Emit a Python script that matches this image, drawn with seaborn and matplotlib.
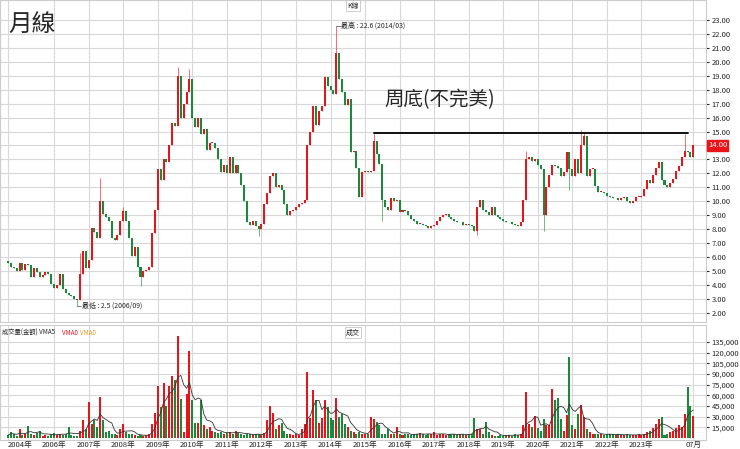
import numpy as np
import pandas as pd
import matplotlib
matplotlib.use("Agg")
import matplotlib.pyplot as plt
import seaborn as sns

# monthly closes, 2004-09 .. 2024-07
close = [5.6, 5.3, 5.2, 5.0,
         5.6, 5.1, 5.5, 5.4, 4.6, 5.2, 4.9, 4.6, 4.7, 4.9, 4.8, 4.1,
         3.8, 4.0, 4.8, 3.7, 3.4, 3.3, 3.2, 3.0, 2.9, 4.8, 6.4, 5.2,
         5.8, 8.1, 7.8, 7.4, 10.0, 9.1, 8.9, 8.6, 7.4, 7.2, 7.6, 8.6,
         9.3, 8.6, 7.4, 6.1, 6.7, 5.3, 4.6, 5.0, 5.1, 5.3, 7.7, 9.4,
         12.3, 11.5, 13.0, 12.8, 14.0, 15.6, 15.4, 19.0, 16.0, 17.0, 17.8, 18.8,
         16.0, 15.3, 16.0, 14.8, 15.2, 13.7, 14.2, 14.2, 13.8, 13.0, 12.1, 12.6,
         12.0, 13.2, 12.0, 12.6, 12.0, 11.2, 10.0, 8.5, 8.3, 8.6, 8.2, 8.0,
         8.4, 9.8, 10.6, 11.8, 12.0, 11.0, 11.2, 10.8, 9.8, 9.0, 9.3, 9.4,
         9.6, 9.8, 9.9, 10.1, 14.0, 15.0, 16.8, 15.5, 16.5, 16.8, 18.9, 18.3,
         18.0, 17.7, 20.6, 18.8, 17.8, 16.9, 17.3, 13.5, 13.6, 12.4, 10.3, 12.1,
         12.2, 12.1, 12.2, 14.3, 13.4, 12.7, 10.1, 9.6, 9.4, 10.2, 10.0, 10.1,
         9.2, 9.4, 9.3, 9.0, 8.7, 8.6, 8.4, 8.4, 8.3, 8.2, 8.1, 8.2,
         8.3, 8.6, 8.9, 9.0, 9.1, 8.9, 8.7, 8.6, 8.5,
         8.5, 8.3, 8.4, 8.3, 8.2, 7.9, 9.6, 10.1, 9.4, 9.2, 9.0,
         9.6, 9.0, 8.9, 8.7, 8.6, 8.5, 8.5, 8.4, 8.3, 8.2, 8.5, 10.1,
         13.0, 13.2, 12.9, 13.0, 12.6, 12.3, 9.0, 11.0, 11.9, 12.6, 12.5, 12.4,
         11.8, 12.1, 13.5, 12.3, 11.8, 13.0, 12.0, 14.0, 14.7, 11.8, 12.3, 12.3,
         11.1, 10.7, 10.7, 10.6, 10.4, 10.3, 10.2, 10.2, 10.1, 10.2, 10.3, 10.0,
         9.9, 10.0, 10.3, 10.3, 10.4, 10.9, 11.5, 11.3, 11.9, 12.4, 12.8, 11.5,
         11.2, 11.0, 11.3, 11.6, 12.2, 12.5, 13.2, 13.6, 13.5, 13.2, 14.0]
open_first = 5.7
# notable wick extremes (month index: value)
high_marks = {25: 6.3, 32: 11.7, 40: 9.6, 59: 19.6, 63: 19.5, 114: 22.6, 127: 14.9, 180: 13.6, 199: 15.1, 200: 14.9, 235: 14.8}
low_marks = {24: 2.5, 46: 3.9, 87: 7.5, 130: 8.6, 163: 7.6, 186: 7.9, 195: 10.8}

# monthly volume, thousands
volume = [4, 8, 5, 3, 12, 4, 6, 17, 5, 4, 7, 10, 3, 4, 3, 5, 7, 4, 6, 4, 5, 15, 4, 3, 3,
          10, 25, 12, 51, 20, 25, 15, 57, 25, 8, 10, 6, 5, 4, 12, 19, 8, 6, 5, 4, 3, 4, 3, 4, 5,
          20, 35, 73, 43, 78, 45, 73, 87, 82, 143, 55, 8, 62, 123, 54, 21, 21, 54, 18, 12, 15, 10, 8, 7, 9, 6, 7,
          8, 6, 10, 7, 5, 4, 6, 5, 4, 6, 5, 4, 7, 25, 45, 35, 12, 18, 21, 10, 6, 5, 4, 5, 4, 12, 20,
          93, 28, 68, 54, 21, 28, 53, 43, 28, 25, 56, 30, 33, 20, 15, 10, 8, 6, 8, 6, 5, 6,
          29, 27, 23, 18, 6, 5, 13, 5, 5, 16, 5, 4, 5, 6, 4, 5, 6, 7, 5, 4, 6, 5, 8, 4, 5, 6,
          4, 5, 6, 5, 4, 5, 6, 4, 5, 6, 28, 13, 13, 5, 23, 8, 4, 3, 3, 4, 3, 4, 4, 3, 5, 4, 5, 18,
          65, 20, 15, 31, 14, 10, 26, 18, 18, 69, 53, 56, 26, 10, 32, 114, 18, 12, 33, 47, 29, 13, 8, 6,
          5, 6, 5, 4, 5, 6, 5, 4, 5, 4, 4, 5, 4, 4, 4, 5, 4, 6, 8, 10, 14, 20, 26, 30,
          4, 6, 8, 10, 14, 18, 15, 33, 72, 45, 31]

tick_pos = [0, 16, 28, 40, 52, 64, 76, 88, 100, 112, 124, 136, 148, 160, 172, 184, 196, 208, 220, 238]
tick_lab = ["2004年", "2006年", "2007年", "2008年", "2009年", "2010年", "2011年", "2012年", "2013年",
            "2014年", "2015年", "2016年", "2017年", "2018年", "2019年", "2020年", "2021年", "2022年", "2023年", "07月"]
price_ticks = list(range(2, 24))

sns.set_style("whitegrid")
plt.rcParams['font.family'] = ['Noto Sans CJK TC', 'DejaVu Sans']

n = len(close)
x = np.arange(n)
opens = [open_first] + close[:-1]
UP, DN = "#e8141a", "#1a8a3a"

fig = plt.figure(figsize=(7.4, 4.49), dpi=100)
ax = fig.add_axes([0.0, 0.283, 0.954, 0.717])
axv = fig.add_axes([0.0, 0.02, 0.954, 0.256], sharex=ax)

for i in range(n):
    o, c = opens[i], close[i]
    col = UP if c >= o else DN
    hi = high_marks.get(i, max(o, c))
    lo = low_marks.get(i, min(o, c))
    ax.vlines(i, lo, hi, color=col, lw=0.6, alpha=0.7)
    ax.bar(i, max(abs(c - o), 0.05), bottom=min(o, c), width=0.7, color=col, lw=0)

ax.set_xlim(-2.8, 242.4)
ax.set_ylim(1.35, 24.43)
ax.yaxis.tick_right()
ax.set_yticks(price_ticks)
ax.set_yticklabels(["" if v == 14 else f"{v}.00" for v in price_ticks], fontsize=5.5)
ax.set_xticks(tick_pos)
ax.tick_params(axis='x', labelbottom=False, length=0)
ax.tick_params(axis='y', length=2, pad=2)
ax.grid(color="#d8d8d8", lw=0.8)
for s in ax.spines.values():
    s.set_color("#cccccc")

ax.text(0.012, 0.96, "月線", transform=ax.transAxes, fontsize=17, va="top")
ax.text(0.5, 0.995, "K線", transform=ax.transAxes, fontsize=5, ha="center", va="top",
        bbox=dict(fc="white", ec="#bbbbbb", lw=0.5, pad=1))
ax.plot([114, 115.5], [22.6, 22.6], color="#666666", lw=0.6)
ax.text(115.7, 22.6, "最高 : 22.6 (2014/03)", fontsize=5, va="center")
ax.plot([24, 25.5], [2.5, 2.5], color="#666666", lw=0.6)
ax.text(25.7, 2.5, "最低 : 2.5 (2006/09)", fontsize=5, va="center")
ax.plot([127, 236], [14.9, 14.9], color="black", lw=1.3)
ax.text(150, 16.5, "周底(不完美)", fontsize=14, ha="center", va="bottom")
ax.text(1.003, 14.0, "14.00", transform=ax.get_yaxis_transform(), fontsize=5.5, color="white",
        va="center", ha="left", bbox=dict(fc=UP, ec=UP, pad=0.8))

vol = np.array(volume) * 1000.0
cols = [UP if close[i] >= opens[i] else DN for i in range(n)]
axv.bar(x, vol, width=0.7, color=cols, lw=0)
vdf = pd.DataFrame({"m": x, "vma": pd.Series(vol).rolling(5, min_periods=1).mean()})
sns.lineplot(data=vdf, x="m", y="vma", ax=axv, color="#333333", lw=0.6)
axv.set_ylim(-3000, 159000)
axv.yaxis.tick_right()
yt = list(range(15000, 135001, 15000))
axv.set_yticks(yt)
axv.set_yticklabels([f"{v:,}" for v in yt], fontsize=5.5)
axv.set_xticks(tick_pos)
axv.set_xticklabels(tick_lab, fontsize=5.5)
axv.get_xticklabels()[0].set_horizontalalignment("left")
axv.tick_params(axis='x', length=0, pad=1)
axv.tick_params(axis='y', length=2, pad=2)
axv.set_xlabel(""); axv.set_ylabel("")
axv.grid(color="#d8d8d8", lw=0.8)
for s in axv.spines.values():
    s.set_color("#cccccc")
axv.text(0.003, 0.97, "成交量(金額) VMA5 ", transform=axv.transAxes, fontsize=4.5, va="top")
axv.text(0.088, 0.97, "VMA0", transform=axv.transAxes, fontsize=4.5, va="top", color=UP)
axv.text(0.113, 0.97, "VMA0", transform=axv.transAxes, fontsize=4.5, va="top", color="#e89a2a")
axv.text(0.5, 0.97, "成交", transform=axv.transAxes, fontsize=5, ha="center", va="top",
         bbox=dict(fc="white", ec="#bbbbbb", lw=0.5, pad=1))

fig.savefig("out.png", dpi=100, facecolor="white")
